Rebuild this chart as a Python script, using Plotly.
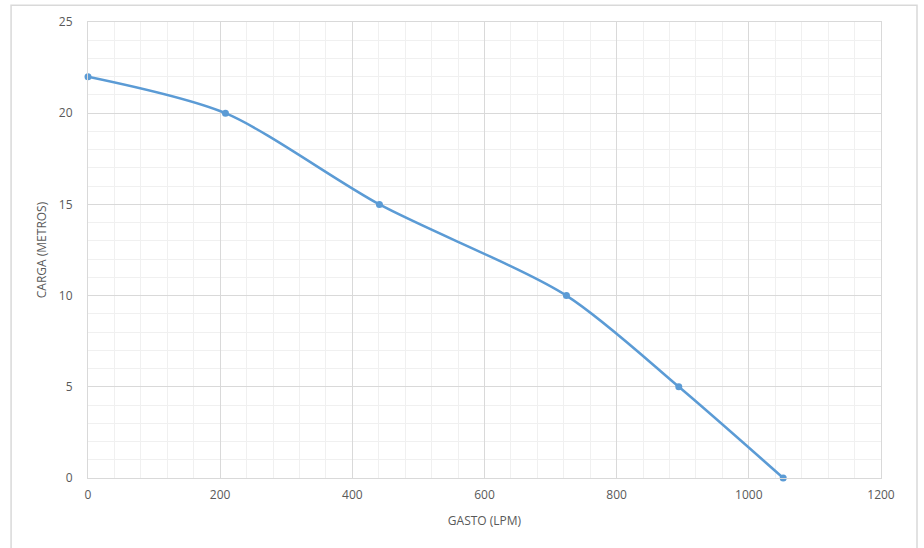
import plotly.graph_objects as go

gasto = [0, 208, 441, 724, 894, 1052]
carga = [22, 20, 15, 10, 5, 0]
x_ticks = [0, 200, 400, 600, 800, 1000, 1200]
y_ticks = [0, 5, 10, 15, 20, 25]

fig = go.Figure()
fig.add_trace(go.Scatter(
    x=gasto, y=carga, mode="lines+markers",
    line=dict(color="#5B9BD5", width=2.5, shape="spline", smoothing=0.8),
    marker=dict(color="#5B9BD5", size=7),
    showlegend=False, cliponaxis=False,
))

font = dict(family="Open Sans, Liberation Sans, sans-serif", size=12, color="#595959")
fig.update_layout(
    width=924, height=548,
    margin=dict(l=88, r=43, t=22, b=70, autoexpand=False),
    paper_bgcolor="white", plot_bgcolor="white",
    font=font,
    xaxis=dict(
        range=[0, 1200], tickvals=x_ticks, ticktext=[str(v) for v in x_ticks],
        showgrid=True, gridcolor="#D9D9D9", gridwidth=1,
        minor=dict(dtick=40, showgrid=True, gridcolor="#F0F0F0", gridwidth=1),
        zeroline=False, showline=True, linecolor="#D9D9D9", mirror=True,
        ticks="", ticklabelstandoff=6, automargin=False,
        title=dict(text="GASTO (LPM)", font=font, standoff=14),
    ),
    yaxis=dict(
        range=[0, 25], tickvals=y_ticks, ticktext=[str(v) for v in y_ticks],
        showgrid=True, gridcolor="#D9D9D9", gridwidth=1,
        minor=dict(dtick=1, showgrid=True, gridcolor="#F0F0F0", gridwidth=1),
        zeroline=False, showline=True, linecolor="#D9D9D9", mirror=True,
        ticks="", ticklabelstandoff=12, automargin=False,
        title=dict(text="CARGA (METROS)", font=font, standoff=9),
    ),
    shapes=[dict(type="rect", xref="paper", yref="paper",
                 x0=-0.097, x1=1.0454, y0=-0.16, y1=1.037,
                 line=dict(color="#D9D9D9", width=1.5), layer="below")],
)

fig.write_html(
    "out.html",
    config={"displayModeBar": False},
    post_script="document.body.style.margin='0';document.documentElement.style.margin='0';",
)
